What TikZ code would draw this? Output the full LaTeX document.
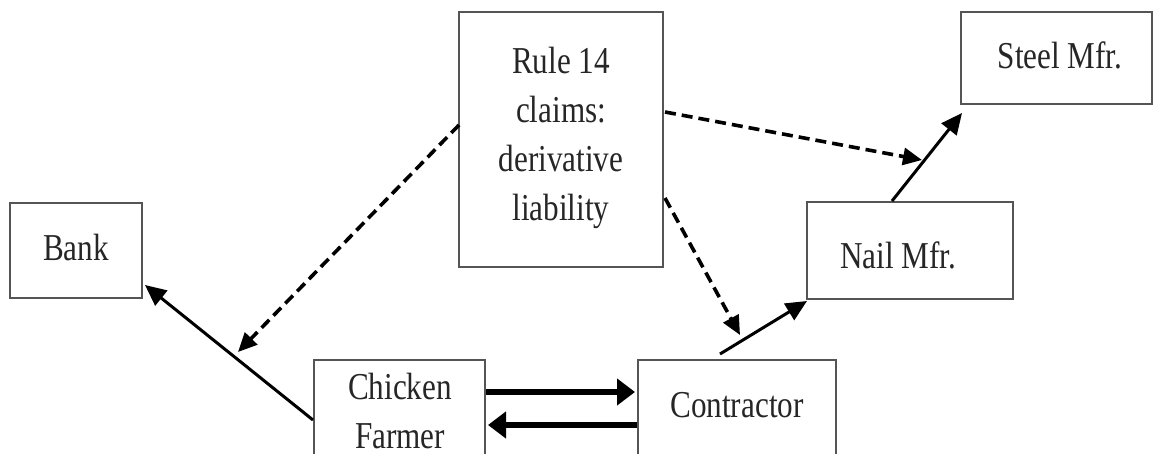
\documentclass[tikz,border=0pt]{standalone}
\usepackage{fontspec}
\setmainfont{Liberation Serif}[FakeStretch=0.82]
\usetikzlibrary{arrows.meta}
\definecolor{boxgray}{HTML}{555555}
\definecolor{txtgray}{HTML}{262626}
\tikzset{
  box/.style={draw=boxgray, line width=2pt, rectangle, inner sep=0pt, fill=none},
  lbl/.style={inner sep=0pt, text=txtgray, font=\fontsize{38}{49}\selectfont, align=center},
  solidarrow/.style={line width=3pt, -{Triangle[length=21pt,width=19pt]}},
  thickarrow/.style={line width=6.5pt, -{Triangle[length=18pt,width=26pt]}},
  dasharrow/.style={line width=3.6pt, dash pattern=on 11pt off 6pt, -{Triangle[length=19pt,width=17pt]}}
}
\begin{document}
\begin{tikzpicture}[x=1pt,y=-1pt]
\useasboundingbox (0,0) rectangle (1153,453);
\fill[white] (0,0) rectangle (1153,453);
% boxes
\node[box, minimum width=132pt, minimum height=95pt] (bank) at (76,250.5) {};
\node[box, minimum width=204pt, minimum height=255pt] (rule) at (561,139.5) {};
\node[box, minimum width=191pt, minimum height=92pt] (steel) at (1056.5,58) {};
\node[box, minimum width=206pt, minimum height=97pt] (nail) at (910,250.5) {};
\node[box, minimum width=171pt, minimum height=120pt] (farmer) at (399.5,420) {};
\node[box, minimum width=198pt, minimum height=120pt] (contractor) at (737,420) {};
% texts
\node[lbl, anchor=base] (banktxt) at (76,260) {Bank};
\node[lbl] (ruletxt) at (561,138) {Rule 14\\claims:\\derivative\\liability};
\node[lbl, anchor=base] (steeltxt) at (1060,68) {Steel Mfr.};
\node[lbl, anchor=base] (nailtxt) at (898,268) {Nail Mfr.};
\node[lbl] (farmertxt) at (400,411) {Chicken\\Farmer};
\node[lbl, anchor=base] (contractortxt) at (737,417) {Contractor};
% free ends
\coordinate (onfarmerbank) at (238,352);
\coordinate (oncontractornail) at (740,335);
\coordinate (onnailsteel) at (922,160);
\coordinate (contractortop) at (720,354);
% solid connectors
\draw[solidarrow] (farmer.west) -- ([shift={(2,-14)}]bank.south east);
\draw[solidarrow] (contractortop) -- ([shift={(1,1)}]nail.south west);
\draw[solidarrow] ([shift={(-18,0)}]nail.north) -- ([shift={(2,8)}]steel.south west);
\draw[thickarrow] ([shift={(0,-28)}]farmer.east) -- ([shift={(-2,-28)}]contractor.west);
\draw[thickarrow] ([shift={(0,5)}]contractor.west) -- ([shift={(2,5)}]farmer.east);
% dashed connectors
\draw[dasharrow] ([shift={(1,-14.5)}]rule.west) -- (onfarmerbank);
\draw[dasharrow] ([shift={(1,58.5)}]rule.east) -- (oncontractornail);
\draw[dasharrow] ([shift={(1,-27.5)}]rule.east) -- (onnailsteel);
\end{tikzpicture}
\end{document}
